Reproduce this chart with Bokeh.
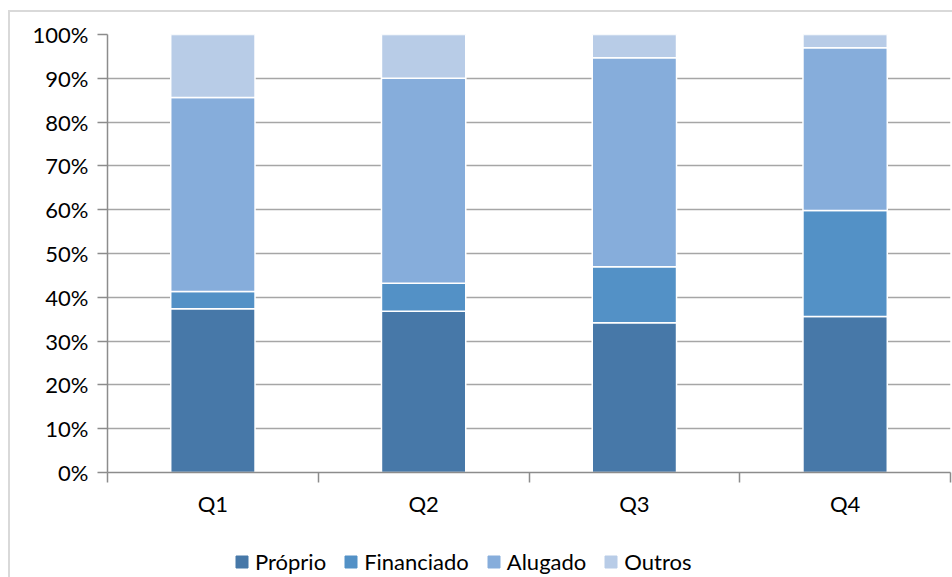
from bokeh.plotting import figure
from bokeh.layouts import column
from bokeh.models import ColumnDataSource, FixedTicker, NumeralTickFormatter, Legend, LegendItem, Range1d
from bokeh.embed import file_html
from bokeh.resources import INLINE

quarters = ["Q1", "Q2", "Q3", "Q4"]
proprio = [37.4, 36.8, 34.2, 35.6]
financiado = [3.9, 6.4, 12.8, 24.2]
alugado = [44.3, 46.8, 47.7, 37.2]
outros = [14.4, 10.0, 5.3, 3.0]
series = ["Próprio", "Financiado", "Alugado", "Outros"]
colors = ["#4778a8", "#5391c6", "#86addb", "#b8cce7"]

xpos = [i + 0.5 for i in range(len(quarters))]
source = ColumnDataSource(dict(
    x=xpos,
    **{"Próprio": [v / 100 for v in proprio],
       "Financiado": [v / 100 for v in financiado],
       "Alugado": [v / 100 for v in alugado],
       "Outros": [v / 100 for v in outros]},
))

FONT = "Lato"
FS = "22px"

p = figure(width=942, height=530, output_backend="svg", toolbar_location=None,
           x_range=Range1d(0, 4), y_range=Range1d(0, 1),
           min_border_left=97, min_border_right=2, min_border_top=22, min_border_bottom=70)
p.outline_line_color = None

renderers = p.vbar_stack(series, x="x", width=0.4, color=colors, source=source,
                         line_color="white", line_width=1.5)

# y axis
p.yaxis.ticker = FixedTicker(ticks=[i / 10 for i in range(11)])
p.yaxis.formatter = NumeralTickFormatter(format="0%")
p.yaxis.axis_line_color = "#8c8c8c"
p.yaxis.axis_line_width = 1.5
p.yaxis.major_tick_line_color = "#8c8c8c"
p.yaxis.major_tick_line_width = 1.5
p.yaxis.major_tick_out = 10
p.yaxis.major_tick_in = 0
p.yaxis.minor_tick_line_color = None
p.yaxis.major_label_text_font = FONT
p.yaxis.major_label_text_font_size = FS
p.yaxis.major_label_text_color = "black"
p.yaxis.major_label_standoff = 9

# x axis
p.xaxis.ticker = FixedTicker(ticks=xpos, minor_ticks=[0, 1, 2, 3, 4])
p.xaxis.major_label_overrides = {x: q for x, q in zip(xpos, quarters)}
p.xaxis.axis_line_color = "#8c8c8c"
p.xaxis.axis_line_width = 1.5
p.xaxis.major_tick_line_color = None
p.xaxis.minor_tick_line_color = "#8c8c8c"
p.xaxis.minor_tick_line_width = 1.5
p.xaxis.minor_tick_out = 10
p.xaxis.minor_tick_in = 0
p.xaxis.major_label_text_font = FONT
p.xaxis.major_label_text_font_size = FS
p.xaxis.major_label_text_color = "black"
p.xaxis.major_label_standoff = 7

p.xgrid.grid_line_color = None
p.ygrid.grid_line_color = "#a6a6a6"
p.ygrid.grid_line_width = 1.5

# legend figure (its frame is aligned with the main frame by the column layout)
lf = figure(width=942, height=35, output_backend="svg", toolbar_location=None,
            x_range=Range1d(0, 1), y_range=Range1d(0, 1),
            x_axis_location=None, y_axis_location=None,
            min_border_left=0, min_border_right=0, min_border_top=0, min_border_bottom=0)
lf.outline_line_color = None
lf.grid.grid_line_color = None
nan = float("nan")
dummy_src = ColumnDataSource(dict(x=[nan], top=[nan]))
dummies = [lf.vbar(x="x", top="top", width=0.1, color=c, source=dummy_src) for c in colors]

legend = Legend(items=[LegendItem(label=s, renderers=[r]) for s, r in zip(series, dummies)],
                orientation="horizontal", location=(127, 2),
                label_text_font=FONT, label_text_font_size=FS, label_text_color="black",
                glyph_width=15, glyph_height=15, spacing=17, label_standoff=6,
                border_line_color=None, background_fill_alpha=0, padding=0, margin=0)
lf.add_layout(legend, "center")

layout = column(p, lf, spacing=0)
layout.styles = {"margin-left": "8px", "margin-top": "10px",
                 "border-left": "2px solid #d9d9d9", "border-top": "2px solid #d9d9d9"}

open("out.html", "w").write(file_html(layout, INLINE))
